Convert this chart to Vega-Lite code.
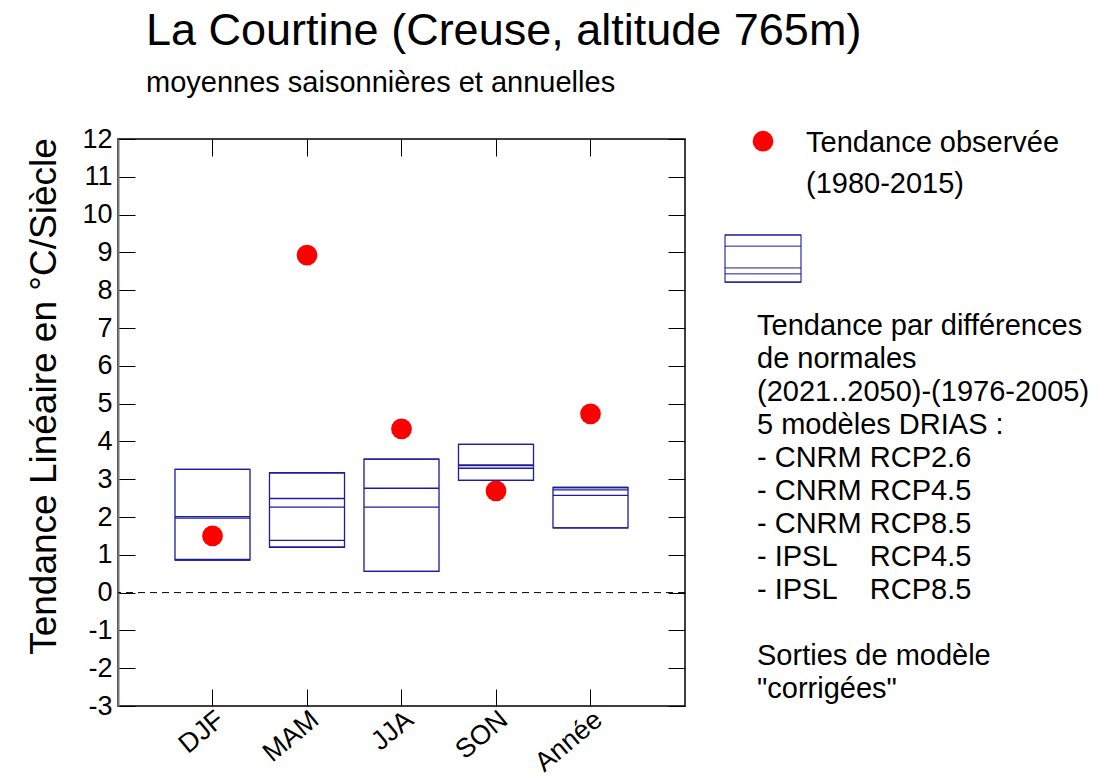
{
  "$schema": "https://vega.github.io/schema/vega-lite/v6.json",
  "padding": {"left": 25, "top": 9, "right": 0, "bottom": 0},
  "background": "white",
  "config": {"font": "Liberation Sans", "view": {"stroke": null}, "concat": {"spacing": 15}},
  "title": {
    "text": "La Courtine (Creuse, altitude 765m)",
    "subtitle": "moyennes saisonnières et annuelles",
    "anchor": "start", "frame": "group",
    "fontSize": 45, "fontWeight": "normal", "color": "black",
    "subtitleFontSize": 29, "subtitleColor": "black", "subtitlePadding": 15,
    "offset": 26, "dx": 28
  },
  "datasets": {
    "models": [
      {"season": "DJF", "value": 3.26}, {"season": "DJF", "value": 2.01}, {"season": "DJF", "value": 1.97}, {"season": "DJF", "value": 0.88}, {"season": "DJF", "value": 0.86},
      {"season": "MAM", "value": 3.17}, {"season": "MAM", "value": 2.49}, {"season": "MAM", "value": 2.26}, {"season": "MAM", "value": 1.38}, {"season": "MAM", "value": 1.2},
      {"season": "JJA", "value": 3.53}, {"season": "JJA", "value": 2.76}, {"season": "JJA", "value": 2.26}, {"season": "JJA", "value": 0.56},
      {"season": "SON", "value": 3.92}, {"season": "SON", "value": 3.38}, {"season": "SON", "value": 3.36}, {"season": "SON", "value": 3.29}, {"season": "SON", "value": 2.97},
      {"season": "Année", "value": 2.78}, {"season": "Année", "value": 2.72}, {"season": "Année", "value": 2.57}, {"season": "Année", "value": 1.71}
    ],
    "obs": [
      {"season": "DJF", "value": 1.5},
      {"season": "MAM", "value": 8.93},
      {"season": "JJA", "value": 4.33},
      {"season": "SON", "value": 2.69},
      {"season": "Année", "value": 4.73}
    ],
    "legendText": [
      {"label": "Tendance observée", "col": 104, "row": -5.55},
      {"label": "(1980-2015)", "col": 104, "row": -4.3},
      {"label": "Tendance par différences", "col": 55, "row": 0},
      {"label": "de normales", "col": 55, "row": 1},
      {"label": "(2021..2050)-(1976-2005)", "col": 55, "row": 2},
      {"label": "5 modèles DRIAS :", "col": 55, "row": 3},
      {"label": "- CNRM RCP2.6", "col": 55, "row": 4},
      {"label": "- CNRM RCP4.5", "col": 55, "row": 5},
      {"label": "- CNRM RCP8.5", "col": 55, "row": 6},
      {"label": "- IPSL\u00a0\u00a0\u00a0\u00a0RCP4.5", "col": 55, "row": 7},
      {"label": "- IPSL\u00a0\u00a0\u00a0\u00a0RCP8.5", "col": 55, "row": 8},
      {"label": "Sorties de modèle", "col": 55, "row": 10},
      {"label": "\"corrigées\"", "col": 55, "row": 11}
    ],
    "legendDot": [{"col": 61, "row": -5.6}],
    "legendBox": [{"row": -2.76}, {"row": -2.42}, {"row": -1.76}, {"row": -1.58}, {"row": -1.33}]
  },
  "hconcat": [
    {
      "width": 567, "height": 567,
      "view": {"stroke": "black", "strokeWidth": 1.5},
      "resolve": {"axis": {"x": "independent", "y": "independent"}},
      "layer": [
        {
          "data": {"name": "models"},
          "mark": {"type": "rect", "fill": "white", "fillOpacity": 0, "stroke": "#1c1c9c", "strokeWidth": 1.3},
          "encoding": {
            "x": {"field": "season", "type": "nominal",
              "scale": {"type": "band", "domain": ["DJF", "MAM", "JJA", "SON", "Année"], "paddingInner": 0.206, "paddingOuter": 0.603},
              "axis": {"orient": "bottom", "title": null, "domain": false, "tickSize": -17, "tickColor": "black", "tickWidth": 1, "labelFontSize": 27, "labelAngle": -40, "labelPadding": 17, "labelOffset": 0, "labelColor": "black", "grid": false}},
            "y": {"aggregate": "min", "field": "value", "type": "quantitative",
              "scale": {"domain": [-3, 12], "nice": false, "zero": false},
              "axis": {"orient": "left", "values": [-3, -2, -1, 0, 1, 2, 3, 4, 5, 6, 7, 8, 9, 10, 11, 12], "labelExpr": "datum.value + ''", "title": "Tendance Linéaire en °C/Siècle", "titleFontSize": 37, "titleFontWeight": "normal", "titleColor": "black", "titlePadding": 18, "titleY": 257, "domain": true, "domainColor": "#777777", "domainWidth": 2, "tickSize": -17, "tickColor": "black", "tickWidth": 1, "labelFontSize": 27, "labelPadding": 23, "labelColor": "black", "grid": false}},
            "y2": {"aggregate": "max", "field": "value"}
          }
        },
        {
          "data": {"name": "models"},
          "mark": {"type": "tick", "color": "#1c1c9c", "size": 75, "thickness": 1.3, "opacity": 1},
          "encoding": {
            "x": {"field": "season", "type": "nominal",
              "axis": {"orient": "top", "title": null, "labels": false, "domain": false, "tickSize": -17, "tickColor": "black", "tickWidth": 1, "grid": false}},
            "y": {"field": "value", "type": "quantitative",
              "axis": {"orient": "right", "values": [-3, -2, -1, 0, 1, 2, 3, 4, 5, 6, 7, 8, 9, 10, 11, 12], "title": null, "labels": false, "domain": false, "tickSize": -17, "tickColor": "black", "tickWidth": 1, "grid": false}}
          }
        },
        {
          "data": {"values": [{}]},
          "mark": {"type": "rule", "strokeDash": [7, 5], "color": "black", "strokeWidth": 1},
          "encoding": {"y": {"datum": 0, "type": "quantitative", "axis": null}}
        },
        {
          "data": {"name": "obs"},
          "mark": {"type": "circle", "color": "#ff0000", "size": 430, "opacity": 1},
          "encoding": {
            "x": {"field": "season", "type": "nominal", "axis": null},
            "y": {"field": "value", "type": "quantitative", "axis": null}
          }
        }
      ]
    },
    {
      "width": 400, "height": 567,
      "view": {"stroke": null},
      "layer": [
        {
          "data": {"name": "legendText"},
          "mark": {"type": "text", "align": "left", "baseline": "middle", "fontSize": 29, "color": "black"},
          "encoding": {
            "x": {"field": "col", "type": "quantitative", "scale": {"domain": [0, 400], "nice": false, "zero": false}, "axis": null},
            "y": {"field": "row", "type": "quantitative", "scale": {"domain": [-5.667, 11.515], "nice": false, "zero": false, "reverse": true}, "axis": null},
            "text": {"field": "label", "type": "nominal"}
          }
        },
        {
          "data": {"name": "legendDot"},
          "mark": {"type": "circle", "color": "#ff0000", "size": 430, "opacity": 1},
          "encoding": {
            "x": {"field": "col", "type": "quantitative", "axis": null},
            "y": {"field": "row", "type": "quantitative", "axis": null}
          }
        },
        {
          "data": {"name": "legendBox"},
          "mark": {"type": "rect", "fill": "white", "fillOpacity": 0, "stroke": "#1c1c9c", "strokeWidth": 1.1},
          "encoding": {
            "x": {"datum": 23, "type": "quantitative", "axis": null},
            "x2": {"datum": 99},
            "y": {"aggregate": "min", "field": "row", "type": "quantitative", "axis": null},
            "y2": {"aggregate": "max", "field": "row"}
          }
        },
        {
          "data": {"name": "legendBox"},
          "mark": {"type": "rule", "color": "#1c1c9c", "strokeWidth": 1},
          "encoding": {
            "x": {"datum": 23, "type": "quantitative", "axis": null},
            "x2": {"datum": 99},
            "y": {"field": "row", "type": "quantitative", "axis": null}
          }
        }
      ]
    }
  ]
}
